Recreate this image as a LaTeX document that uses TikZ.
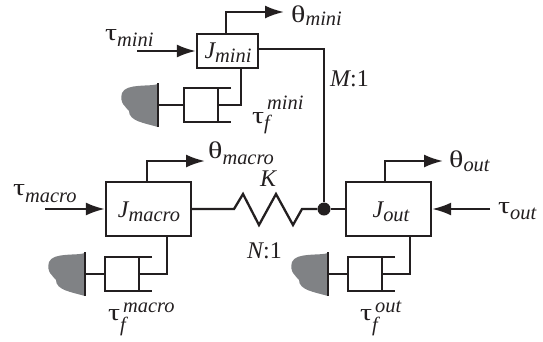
\documentclass[tikz,border=0pt]{standalone}
\usepackage{fontspec}
\setmainfont{Liberation Serif}
\usetikzlibrary{arrows.meta}
\definecolor{ink}{HTML}{231F20}
\definecolor{blob}{HTML}{808285}
\newcommand{\gr}[1]{\scalebox{1.25}[1]{#1}}
\newcommand{\symb}[3]{\fontsize{24}{26}\selectfont #1\raisebox{#3}{\fontsize{20.5}{22}\selectfont\itshape #2}}
% #1 superscript, #2 raise of f, #3 raise of superscript
\newcommand{\fric}[3]{\fontsize{24}{26}\selectfont \gr{τ}\raisebox{#2}{\rlap{\fontsize{20.5}{22}\selectfont\itshape f}}\kern 3bp\raisebox{#3}{\fontsize{20.5}{22}\selectfont\itshape #1}}
\tikzset{
  wire/.style={draw=ink,line width=2.3bp},
  box/.style={draw=ink,line width=2.3bp,minimum width=0pt,inner sep=0pt,text=ink},
  arr/.style={wire,-{Latex[length=19bp,width=13bp]}},
  lab/.style={inner sep=0pt,anchor=base west,text=ink},
  jlab/.style={inner sep=0pt,anchor=center,text=ink}
}
% #1 prefix, #2 wall x, #3 rect left, #4 centre y, #5 wire x, #6 box node
\newcommand{\damper}[6]{
  \fill[blob] (#2,#4-21) .. controls (#2-8,#4-18) and (#2-32,#4-22) .. (#2-36,#4-12)
     .. controls (#2-39,#4-2) and (#2-32,#4+2) .. (#2-29,#4+6)
     .. controls (#2-29,#4+16) and (#2-14,#4+18) .. (#2,#4+22) -- cycle;
  \coordinate (#1wt) at (#2,#4-22);
  \coordinate (#1wb) at (#2,#4+22);
  \coordinate (#1w) at (#2,#4);
  \coordinate (#1l) at (#3,#4);
  \coordinate (#1p) at (#3+34,#4);
  \coordinate (#1tl) at (#3,#4-17);
  \coordinate (#1bl) at (#3,#4+17);
  \coordinate (#1tr) at (#3+47,#4-17);
  \coordinate (#1br) at (#3+47,#4+17);
  \coordinate (#1pt) at (#3+34,#4-17);
  \coordinate (#1pb) at (#3+34,#4+17);
  \coordinate (#1x) at (#5,#4);
  \draw[wire,line width=2.6bp] (#1wt) -- (#1wb);
  \draw[wire] (#1w) -- (#1l);
  \draw[wire] (#1tr) -- (#1tl) -- (#1bl) -- (#1br);
  \draw[wire] (#1pt) -- (#1pb);
  \draw[wire] (#1p) -- (#1x) -- (#1x |- #6.south);
}
\begin{document}
\begin{tikzpicture}[x=1bp,y=-1bp]
\useasboundingbox (0,0) rectangle (543,341);
% boxes
\path (227.5,51) node[box,minimum width=61bp,minimum height=34bp] (jmini) {};
\path (148.5,209) node[box,minimum width=85bp,minimum height=54bp] (jmacro) {};
\path (388.5,209) node[box,minimum width=85bp,minimum height=54bp] (jout) {};
\node[jlab] (tj1) at (228,53) {\symb{\itshape J}{mini}{-4bp}};
\node[jlab] (tj2) at (149,212) {\symb{\itshape J}{macro}{-4bp}};
\node[jlab] (tj3) at (391,212) {\symb{\itshape J}{out}{-4bp}};
% dampers
\damper{a}{158}{184}{105}{241}{jmini}
\damper{b}{85}{105}{274}{167}{jmacro}
\damper{c}{328}{348}{274}{410}{jout}
% outputs
\coordinate (t1) at (284,12);
\coordinate (t2) at (205,161);
\coordinate (t3) at (443,161);
\coordinate (s1) at (226,34);
\coordinate (s2) at (147,182);
\coordinate (s3) at (385,182);
\draw[arr] (s1) |- (t1);
\draw[arr] (s2) |- (t2);
\draw[arr] (s3) |- (t3);
% inputs
\coordinate (i1) at (137,51);
\coordinate (i2) at (45,209);
\coordinate (i3) at (490,209);
\draw[arr] (i1) -- (jmini.west);
\draw[arr] (i2) -- (jmacro.west);
\draw[arr] (i3) -- (jout.east);
% spring and junction
\node[circle,fill=ink,inner sep=0pt,minimum size=13bp] (dot) at (324,209) {};
\draw[wire,line join=miter] (jmacro.east) -- (234,209) -- (243,194) -- (259,225) -- (276,194) -- (293,225) -- (302,209) -- (dot);
\draw[wire] (dot) -- (jout.west);
\coordinate (m) at (324,49);
\draw[wire] (jmini.east |- m) -- (m) -- (dot);
% labels
\node[lab] (l1) at (291,22) {\symb{\gr{θ}}{mini}{-3.5bp}};
\node[lab] (l2) at (105,40) {\symb{\gr{τ}}{mini}{-6bp}};
\node[lab] (l3) at (208,158) {\symb{\gr{θ}}{macro}{-6bp}};
\node[lab] (l4) at (13,195) {\symb{\gr{τ}}{macro}{-7bp}};
\node[lab] (l5) at (449,167) {\symb{\gr{θ}}{out}{-4bp}};
\node[lab] (l6) at (498,213) {\symb{\gr{τ}}{out}{-6bp}};
\node[lab] (l7) at (330,86) {\symb{\itshape M\upshape:1}{}{0bp}};
\node[lab] (l8) at (247,258) {\symb{\itshape N\upshape:1}{}{0bp}};
\node[lab] (l9) at (260,186) {\symb{\itshape K}{}{0bp}};
\node[lab] (l10) at (252,123) {\fric{mini}{-6bp}{14bp}};
\node[lab] (l11) at (108,320) {\fric{macro}{-11bp}{8bp}};
\node[lab] (l12) at (360,320) {\fric{out}{-11bp}{8bp}};
\end{tikzpicture}
\end{document}
